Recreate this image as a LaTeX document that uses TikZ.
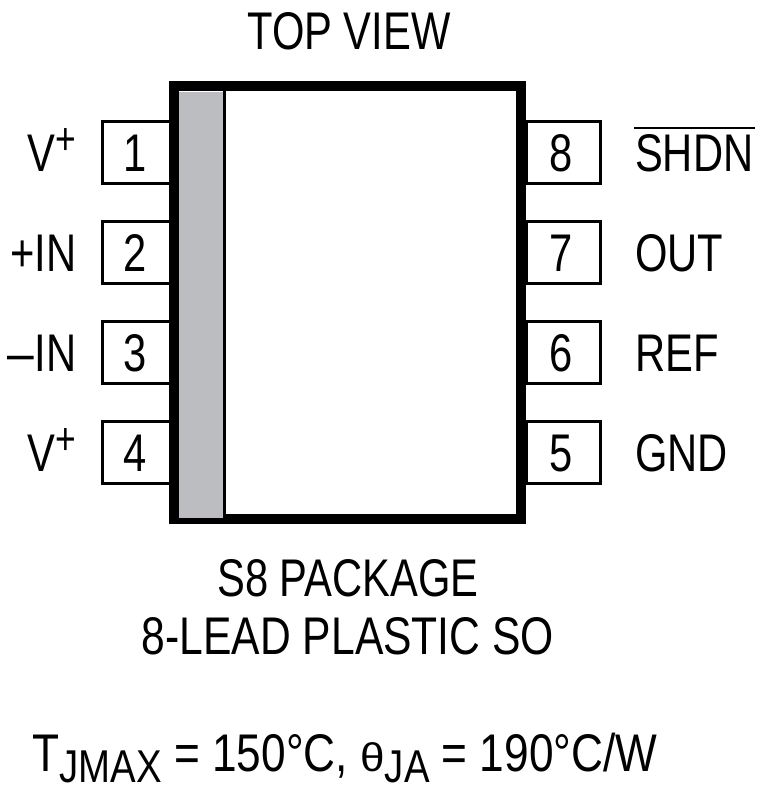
\documentclass[tikz,border=0pt]{standalone}
\usepackage{graphicx}
\usepackage{fontspec}
\setmainfont{Liberation Sans}
\definecolor{chipgrey}{RGB}{188,189,192}
\tikzset{
 lab/.style={inner sep=0pt,font=\fontsize{53}{53}\selectfont,xscale=0.787},
 pinbox/.style={draw=black,line width=3pt,fill=white,inner sep=0pt,minimum height=62.5pt},
}
\newcommand{\supplus}{\raisebox{17pt}{\fontsize{45}{45}\selectfont +}}
\newcommand{\subtxt}[1]{\raisebox{-11pt}{\fontsize{46}{46}\selectfont #1}}
\begin{document}
\begin{tikzpicture}[x=1pt,y=-1pt]
\useasboundingbox (0,0) rectangle (760,796);
\foreach \n/\yy/\t in {p1/152.5/1,p2/252.5/2,p3/352.5/3,p4/452.5/4}{
 \node[pinbox,minimum width=70pt] (\n) at (137.5,\yy) {};
}
\foreach \n/\yy/\t in {p8/152.5/8,p7/252.5/7,p6/352.5/6,p5/452.5/5}{
 \node[pinbox,minimum width=74pt] (\n) at (563,\yy) {};
}
\node[lab,anchor=base] (n1) at (135,171) {1};
\node[lab,anchor=base] (n2) at (135,271) {2};
\node[lab,anchor=base] (n3) at (135.5,371) {3};
\node[lab,anchor=base] (n4) at (135.5,471) {4};
\node[lab,anchor=base] (n8) at (561,171) {8};
\node[lab,anchor=base] (n7) at (561,271) {7};
\node[lab,anchor=base] (n6) at (561,371) {6};
\node[lab,anchor=base] (n5) at (561,471) {5};
\node[draw=black,line width=10pt,fill=white,minimum width=347pt,minimum height=433pt,inner sep=0pt,outer sep=0pt] (body) at (347.5,302.5) {};
\fill[chipgrey] (178.7,91.5) rectangle (224,518);
\draw[line width=3pt] (224.7,91) -- (224.7,519);
\node[lab,anchor=base] (top) at (349,49) {TOP VIEW};
\node[lab,anchor=base east] (v1) at (76,171) {V\supplus};
\node[lab,anchor=base east] (in1) at (76.5,271) {+IN};
\node[lab,anchor=base east] (in2) at (76.5,371) {\scalebox{1.15}[1]{–}IN};
\node[lab,anchor=base east] (v2) at (76,471) {V\supplus};
\node[lab,anchor=base west] (shdn) at (635,171) {SHDN};
\fill (634,126.7) rectangle (755,128.9);
\node[lab,anchor=base west] (out) at (635,271) {OUT};
\node[lab,anchor=base west] (ref) at (635,371) {REF};
\node[lab,anchor=base west] (gnd) at (635,471) {GND};
\node[lab,anchor=base] (s8) at (348,596) {S8 PACKAGE};
\node[lab,anchor=base,xscale=1.022] (so) at (348,654) {8-LEAD PLASTIC SO};
\node[lab,anchor=base west,xscale=1.06] (th) at (32.5,771) {T\subtxt{JMAX} = 150°C, {\fontsize{40}{40}\selectfont\scalebox{1.32}[1]{θ}}\subtxt{JA} = 190°C/W};
\end{tikzpicture}
\end{document}
